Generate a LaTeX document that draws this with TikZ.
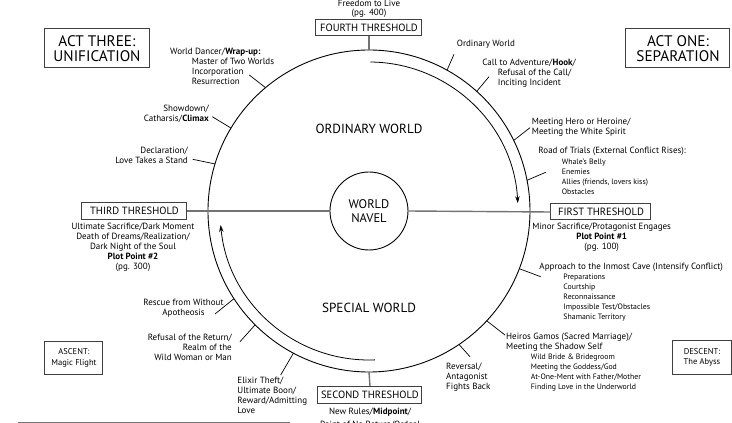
\documentclass[tikz,border=0pt]{standalone}
\usepackage{fontspec}
\setmainfont{PT Sans}
\usetikzlibrary{arrows.meta}
\begin{document}
\begin{tikzpicture}[x=1pt,y=1pt,
  lbl/.style={font=\fontsize{9}{10}\selectfont, inner sep=0pt},
  sublist/.style={font=\fontsize{7.8}{10}\selectfont, inner sep=0pt, align=left},
  tick/.style={line width=0.7pt},
  conn/.style={draw=black!55, line width=1.4pt},
  flow/.style={line width=0.8pt},
  thr/.style={draw=black!75, line width=1pt, inner sep=0pt, minimum height=16pt, font=\fontsize{10.5}{11}\selectfont},
  actbox/.style={draw=black!75, line width=1pt, inner sep=0pt, minimum width=105pt, minimum height=39pt, align=center, font=\fontsize{15.3}{15}\selectfont},
  smallbox/.style={draw=black!75, line width=1pt, inner sep=0pt, minimum width=58pt, minimum height=33pt, align=center, font=\fontsize{8.5}{10.5}\selectfont},
  world/.style={font=\fontsize{13.2}{13}\selectfont, inner sep=0pt}
]
\useasboundingbox (-369,-212) rectangle (363,211);
\clip (-369,-212) rectangle (363,211);

% main circle and navel
\node[circle, draw, line width=0.9pt, minimum size=322pt, inner sep=0pt, outer sep=0pt] (main) at (0,0) {};
\node[circle, draw, line width=0.9pt, minimum size=78pt, inner sep=0pt, outer sep=0pt, align=center, font=\fontsize{12.5}{14.5}\selectfont] (navel) at (0,0) {WORLD\\NAVEL};

% inner flow arcs
\draw[flow, -{Stealth[length=7pt,width=4.5pt]}] (89.5:149) arc[start angle=89.5, end angle=3, radius=149];
\draw[flow, -{Stealth[length=7pt,width=4.5pt]}] (272.3:149) arc[start angle=272.3, end angle=185.4, radius=149];

\node[world] (ordw) at (0,82) {ORDINARY WORLD};
\node[world] (specw) at (0,-97) {SPECIAL WORLD};

% thresholds
\node[thr, minimum width=106pt] (fourth) at (0,183) {FOURTH THRESHOLD};
\node[lbl] (free) at (0,208) {Freedom to Live};
\node[lbl] (pg4) at (0,198) {(pg. 400)};
\draw[conn] (fourth.south) -- (main.north);

\node[thr, minimum width=104pt, minimum height=17pt] (second) at (1,-184) {SECOND THRESHOLD};
\draw[conn] (main.south) -- (second.north);
\node[lbl] (newrules) at (1,-201) {New Rules/\textbf{Midpoint}/};
\node[lbl] (ordeal) at (1,-214) {Point of No Return/Ordeal};

\node[thr, minimum width=105pt, minimum height=17pt] (third) at (-234.5,0) {THIRD THRESHOLD};
\draw[conn] (third.east) -- (navel.west);
\node[lbl, align=center, anchor=north] (thirdtxt) at (-236,-12) {Ultimate Sacrifice/Dark Moment\\Death of Dreams/Realization/\\Dark Night of the Soul\\\textbf{Plot Point \#2}\\(pg. 300)};

\node[thr, minimum width=100pt] (first) at (232,-1) {FIRST THRESHOLD};
\draw[conn] (navel.east) -- (first.west);
\node[lbl, align=center, anchor=north] (firsttxt) at (232.7,-12) {Minor Sacrifice/Protagonist Engages\\\textbf{Plot Point \#1}\\(pg. 100)};

% act boxes
\node[actbox] (act3) at (-272,162.5) {ACT THREE:\\UNIFICATION};
\node[actbox, minimum width=104pt] (act1) at (309,162.5) {ACT ONE:\\SEPARATION};
\node[smallbox] (ascent) at (-295,-147) {ASCENT:\\Magic Flight};
\node[smallbox, minimum width=59pt, minimum height=34pt] (descent) at (333,-146.5) {DESCENT:\\The Abyss};
\coordinate (bl1) at (-351,-211);
\coordinate (bl2) at (-79,-211);
\draw[conn, line width=1pt] (bl1) -- (bl2);

% 1 Ordinary World
\node[lbl, anchor=west] (l1) at (87.7,166.7) {Ordinary World};
\coordinate (t1) at (85,156.7);
\draw[tick] (main.61.1) -- (t1);

% 2 Call to adventure
\node[lbl, anchor=west] (l2a) at (113.3,147.7) {Call to Adventure/\textbf{Hook}/};
\node[lbl, anchor=west, align=left] (l2b) at (128.7,132.7) {Refusal of the Call/\\Inciting Incident};
\coordinate (t2) at (120,134.3);
\draw[tick] (main.48.3) -- (t2);

% 3 Meeting hero
\node[lbl, anchor=west, align=left] (l3) at (162.7,83.7) {Meeting Hero or Heroine/\\Meeting the White Spirit};
\coordinate (t3) at (161,83.3);
\draw[tick] (main.26) -- (t3);

% 4 Road of trials
\node[lbl, anchor=west] (l4) at (169.3,59.3) {Road of Trials (External Conflict Rises):};
\node[sublist, anchor=west] (l4s) at (192.7,34.2) {Whale's Belly\\Enemies\\Allies (friends, lovers kiss)\\Obstacles};
\coordinate (t4) at (176.7,38.7);
\draw[tick] (main.11.25) -- (t4);

% 5 Approach
\node[lbl, anchor=west] (l5) at (170.3,-56.3) {Approach to the Inmost Cave (Intensify Conflict)};
\node[sublist, anchor=west] (l5s) at (194.3,-86.3) {Preparations\\Courtship\\Reconnaissance\\Impossible Test/Obstacles\\Shamanic Territory};
\coordinate (t5) at (171.7,-65.7);
\draw[tick] (main.-21.25) -- (t5);

% 6 Heiros Gamos
\node[lbl, anchor=west, align=left] (l6) at (137,-131.3) {Heiros Gamos (Sacred Marriage)/\\Meeting the Shadow Self};
\node[sublist, anchor=west] (l6s) at (161.7,-161.3) {Wild Bride \& Bridegroom\\Meeting the Goddess/God\\At-One-Ment with Father/Mother\\Finding Love in the Underworld};
\coordinate (t6) at (136,-124);
\draw[tick] (main.-43.1) -- (t6);

% 7 Reversal
\node[lbl, anchor=west, align=left] (l7) at (77,-166.2) {Reversal/\\Antagonist\\Fights Back};
\coordinate (t7) at (101,-145.7);
\draw[tick] (main.-56.3) -- (t7);

% 8 Elixir
\node[lbl, anchor=west, align=left] (l8) at (-131.7,-184) {Elixir Theft/\\Ultimate Boon/\\Reward/Admitting\\Love};
\coordinate (t8) at (-88.3,-164);
\draw[tick] (main.242) -- (t8);

% 9 Refusal of the return
\node[lbl, anchor=east, align=right] (l9) at (-137,-136.7) {Refusal of the Return/\\Realm of the\\Wild Woman or Man};
\coordinate (t9) at (-129,-130.7);
\draw[tick] (main.225.6) -- (t9);

% 10 Rescue
\node[lbl, align=center] (l10) at (-185.5,-97.3) {Rescue from Without\\Apotheosis};
\coordinate (t10) at (-154,-103);
\draw[tick] (main.213.75) -- (t10);

% 11 Declaration
\node[lbl, anchor=east, align=right] (l11) at (-181,56) {Declaration/\\Love Takes a Stand};
\coordinate (t11) at (-176.3,51.7);
\draw[tick] (main.163.9) -- (t11);

% 12 Showdown
\node[lbl, anchor=east, align=right] (l12) at (-160,97) {Showdown/\\Catharsis/\textbf{Climax}};
\coordinate (t12) at (-156.7,94.3);
\draw[tick] (main.149.25) -- (t12);

% 13 World dancer
\node[lbl, anchor=west] (l13a) at (-199,159.3) {World Dancer/\textbf{Wrap-up:}};
\node[lbl, anchor=west, align=left] (l13b) at (-177.3,139.7) {Master of Two Worlds\\Incorporation\\Resurrection};
\coordinate (t13) at (-119.7,136);
\draw[tick] (main.130.7) -- (t13);
\end{tikzpicture}
\end{document}
